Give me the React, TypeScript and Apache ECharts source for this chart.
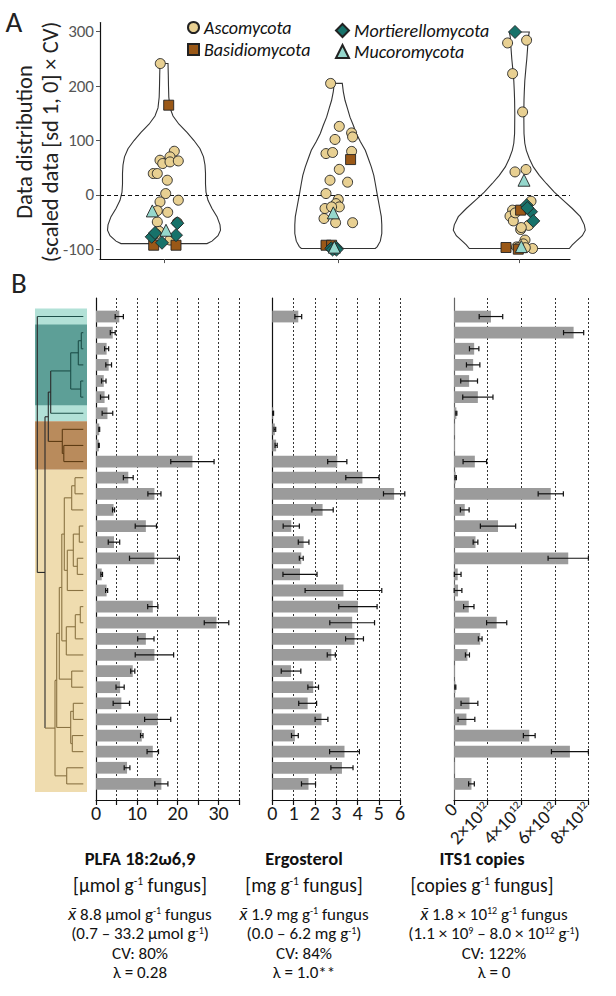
import React, { useEffect, useRef } from 'react';
import * as echarts from 'echarts';

const FONT = 'Carlito, Lato, "Noto Sans", sans-serif';

// ---------------- Panel A data ----------------
const groupNames = ['Ascomycota', 'Basidiomycota', 'Mortierellomycota', 'Mucoromycota'];
const groupFill = ['#e8d092', '#9a5817', '#17726a', '#95d7cc'];
const groupSymbol = ['circle', 'rect', 'diamond', 'triangle'];
const groupSize = [10, 10, 13, 12];

// violin outlines: [scaled value, half width in axis units]
const violinPLFA = [
  [241.5, 4], [220, 4.3], [200, 4.5], [180, 4.8], [160, 6], [145, 9], [130, 15], [115, 23], [100, 30],
  [85, 36], [70, 39.5], [55, 41], [40, 41.5], [20, 41.5], [5, 42], [-10, 44], [-25, 48], [-40, 53],
  [-55, 56], [-65, 56.5], [-75, 54], [-85, 48], [-89.5, 43],
];
const violinErgo = [
  [205, 4], [190, 5], [174, 6.7], [160, 9], [143, 11.7], [128, 15], [113, 18], [98, 22], [82, 27],
  [67, 30], [51.5, 33], [36, 35.5], [21, 37], [5, 38.5], [-10, 40], [-25, 41.5], [-40, 43], [-55, 43.5],
  [-71, 43.5], [-85, 42], [-95, 39], [-98.5, 37],
];
const violinITS = [
  [299.6, 10], [290, 9], [270, 8.3], [250, 7.5], [235, 6.7], [210, 5.5], [190, 5], [174, 4.7], [150, 4.5],
  [113, 4.7], [95, 5.5], [82, 7], [67, 10], [51.5, 14], [36, 20], [21, 27], [5, 35], [-10, 44], [-25, 53],
  [-40, 61], [-55, 65], [-65, 66], [-75, 63], [-85, 57], [-92, 53], [-98.5, 50],
];
const violins = [violinPLFA, violinErgo, violinITS];

// points: [jitter, scaled value]
const ascoPLFA = [[-3.7, 241.5], [10.3, 80.3], [-4, 63.8], [-1.3, 57.7], [6, 70], [6, 60.7], [14.3, 62.5], [-10.7, 39.3], [-6.7, 39.3], [3.3, 27], [1.7, 2.5], [14.3, -9.7], [-4, -12.8], [3.7, -32], [-6.7, -29], [-6.7, -49.6], [13.3, -50.8], [-4.7, -67], [6, -83], [-8, -72]];
const basiPLFA = [[4.7, 165], [-10.3, -92.5], [12, -92.5]];
const mortPLFA = [[-12.3, -77], [12, -74], [-9, -70], [13.3, -52], [-2, -88]];
const mucoPLFA = [[-11.7, -29.4], [2, -65]];

const ascoErgo = [[-7.7, 205], [1, 126], [13.3, 114], [14.3, 106.6], [-3.3, 102], [-12.3, 76], [-5.7, 78], [13.3, 80], [1, 47], [-8.3, 27], [9.3, 23.4], [-12.3, 2.5], [0, -8.5], [-2.3, -16], [1, -22], [-13.3, -25], [-6.7, -22], [-14.3, -43.4], [-2.7, -51], [14.3, -51]];
const basiErgo = [[12.3, 65], [-12.3, -92.5], [-6.7, -92.5]];
const mortErgo = [[-7, -98], [-3, -99], [-2, -97], [-5.7, -100.4], [-1.7, -100.4]];
const mucoErgo = [[-5, -33], [-4, -96]];

const ascoITS = [[-11.7, 279.4], [7.3, 284.4], [-6.7, 223], [3.3, 152.6], [-4.3, 42.3], [6.7, 46.7], [11.7, -11.6], [-6.7, -28], [-9.3, -39], [-6, -47.8], [1.3, -63.6], [9.3, -56], [5.7, -83], [-2.7, -95.6], [13.3, -98.5], [4, -90], [-4, -33], [2, -60], [-1, -97], [6, -97]];
const basiITS = [[1.3, -28], [-13.3, -96.7], [-1, -99.8]];
const mortITS = [[-4.3, 299.6], [7.3, -19], [11.7, -31], [14, -47.8], [8, -24]];
const mucoITS = [[4.7, 27], [2, -95]];

const pointSets = [
  [ascoPLFA, ascoErgo, ascoITS],
  [basiPLFA, basiErgo, basiITS],
  [mortPLFA, mortErgo, mortITS],
  [mucoPLFA, mucoErgo, mucoITS],
];
const violinCenters = [64, 238.3, 419.3];
const panelATicks = [-100, 0, 100, 200, 300];

// ---------------- Panel B data ----------------
// 30 taxa, rows top to bottom
const plfaMean = [5.7, 4.1, 2.6, 3.1, 1.9, 2.1, 2.8, 0.8, 0.7, 23.6, 7.9, 14.3, 4.3, 12.2, 4.4, 14.3, 1.4, 2.6, 13.9, 29.5, 12.2, 14.3, 9.0, 5.9, 6.2, 15.1, 11.2, 13.9, 7.6, 16.0];
const plfaErr = [1.0, 0.6, 0.5, 0.7, 0.55, 1.0, 1.3, 0.1, 0.1, 5.3, 1.2, 1.6, 0.25, 2.6, 1.4, 6.1, 0.2, 0.25, 1.25, 3.0, 2.0, 4.7, 0.5, 1.0, 2.0, 3.2, 0.3, 1.4, 0.7, 1.6];
const ergoMean = [1.22, null, null, null, null, null, 0.04, 0.12, 0.18, 3.05, 4.23, 5.72, 2.36, 0.89, 1.47, 1.36, 1.3, 3.34, 4.02, 3.75, 3.86, 2.77, 0.88, 1.92, 1.66, 2.31, 1.06, 3.39, 3.27, 1.7];
const ergoErr = [0.16, null, null, null, null, null, 0.02, 0.04, 0.05, 0.45, 0.78, 0.5, 0.5, 0.38, 0.25, 0.09, 0.8, 1.8, 0.9, 1.05, 0.42, 0.19, 0.46, 0.25, 0.42, 0.3, 0.16, 0.7, 0.52, 0.33];
const itsMean = [2.2e12, 7.12e12, 1.2e12, 1.14e12, 0.9e12, 1.42e12, 0.14e12, 0.005e12, 0.02e12, 1.24e12, 0.1e12, 5.76e12, 0.64e12, 2.62e12, 1.28e12, 6.8e12, 0.22e12, 0.24e12, 0.88e12, 2.54e12, 1.56e12, 0.8e12, 0.02e12, 0.08e12, 0.92e12, 0.74e12, 4.48e12, 6.9e12, 0.02e12, 1.04e12];
const itsErr = [0.7e12, 0.6e12, 0.28e12, 0.4e12, 0.5e12, 0.9e12, 0.03e12, 0, 0, 0.7e12, 0.04e12, 0.75e12, 0.26e12, 1.05e12, 0.14e12, 1.2e12, 0.2e12, 0.23e12, 0.31e12, 0.6e12, 0.11e12, 0.12e12, 0, 0.03e12, 0.5e12, 0.5e12, 0.35e12, 1.1e12, 0, 0.17e12];

// phylum of each row: 0 Asco, 1 Basidio, 2 Mortierella, 3 Mucoro
const rowGroup = [3, 2, 2, 2, 2, 2, 3, 1, 1, 1, 0, 0, 0, 0, 0, 0, 0, 0, 0, 0, 0, 0, 0, 0, 0, 0, 0, 0, 0, 0];
// clade background bands: [first row, last row, colour index]
const cladeBands = [[1, 7, 0], [2, 6, 1], [8, 10, 2], [11, 30, 3]];
const bandColors = ['#b2e1d7', '#5d9f97', '#b98b5c', '#efdcaf'];
const groupLineColor = ['#8a7343', '#5e3c14', '#1d4f49', '#1d4f49'];

type TNode = number | { d: number; c: TNode[] };
const N = (d: number, c: TNode[]): TNode => ({ d, c });
const TIP_DEPTH = 46;
const ascoClade: TNode = N(17.7, [
  N(19.4, [
    N(22, [
      N(24.5, [
        N(27, [
          N(34.4, [N(37.7, [11, 12]), 13]),
          N(30, [N(36, [N(42, [14, 15]), N(40, [16, 17])]), 18]),
        ]),
        N(29, [N(38, [N(43, [19, 20]), 21]), 22]),
      ]),
      N(34.4, [23, 24]),
    ]),
    N(33.4, [N(36, [25, 26]), N(35, [27, 28])]),
  ]),
  N(29.4, [29, 30]),
]);
const earlyClade: TNode = N(11, [
  N(13.4, [N(33.4, [N(41, [N(44, [2, 3]), 4]), N(43.4, [5, 6])]), 7]),
  N(25, [8, N(26.5, [9, 10])]),
]);
const dendroTree: TNode = N(0, [1, N(7.7, [earlyClade, ascoClade])]);

const plfaTicks = { max: 35, step: 5 };
const ergoTicks = { max: 6, step: 1 };
const itsTicks = { max: 8e12, step: 2e12 };

const titles = ['PLFA 18:2ω6,9', 'Ergosterol', 'ITS1 copies'];
const units = ['[µmol g{s|-1} fungus]', '[mg g{s|-1} fungus]', '[copies g{s|-1} fungus]'];
const statLines = [
  ['{i|x̄} 8.8 µmol g{s|-1} fungus', '(0.7 – 33.2 µmol g{s|-1})', 'CV: 80%', 'λ = 0.28'],
  ['{i|x̄} 1.9 mg g{s|-1} fungus', '(0.0 – 6.2 mg g{s|-1})', 'CV: 84%', 'λ = 1.0**'],
  ['{i|x̄} 1.8 × 10{s|12} g{s|-1} fungus', '(1.1 × 10{s|9} – 8.0 × 10{s|12} g{s|-1})', 'CV: 122%', 'λ = 0'],
];

// ---------------- helpers ----------------
function layoutTree(node: TNode, segs: number[][]): { y: number; x: number; g: number } {
  if (typeof node === 'number') return { y: node, x: TIP_DEPTH, g: rowGroup[node - 1] };
  const kids = node.c.map((k) => layoutTree(k, segs));
  const ys = kids.map((k) => k.y);
  const g0 = kids[0].g;
  const g = kids.every((k) => k.g === g0) ? g0 : -1;
  const yMin = Math.min(...ys), yMax = Math.max(...ys);
  segs.push([node.d, yMin, node.d, yMax, g]);
  kids.forEach((k) => segs.push([node.d, k.y, k.x, k.y, k.g]));
  return { y: (yMin + yMax) / 2, x: node.d, g };
}

function barData(mean: (number | null)[], err: (number | null)[]) {
  const out: number[][] = [];
  mean.forEach((m, i) => {
    if (m !== null) out.push([i + 1, m, err[i] ?? 0]);
  });
  return out;
}

function barRender(params: any, api: any) {
  const r = api.value(0), m = api.value(1), e = api.value(2);
  const base = api.coord([0, r]);
  const end = api.coord([m, r]);
  const h = api.size([0, 0.73])[1];
  const children: any[] = [
    { type: 'rect', shape: { x: base[0], y: base[1] - h / 2, width: Math.max(end[0] - base[0], 0.8), height: h }, style: { fill: '#9b9b9b' } },
  ];
  if (e > 0) {
    const lo = api.coord([Math.max(m - e, 0), r]);
    const hi = api.coord([m + e, r]);
    const cap = 2.6;
    const st = { stroke: '#111', lineWidth: 1.2 };
    children.push({ type: 'line', shape: { x1: lo[0], y1: lo[1], x2: hi[0], y2: hi[1] }, style: st });
    children.push({ type: 'line', shape: { x1: lo[0], y1: lo[1] - cap, x2: lo[0], y2: lo[1] + cap }, style: st });
    children.push({ type: 'line', shape: { x1: hi[0], y1: hi[1] - cap, x2: hi[0], y2: hi[1] + cap }, style: st });
  }
  return { type: 'group', children };
}

const rowAxis = (show: boolean, color = '#111') => ({
  type: 'value', min: -0.15, max: 31, inverse: true,
  axisLine: { show, onZero: false, lineStyle: { color, width: 1.2 } },
  axisTick: { show: false }, axisLabel: { show: false }, splitLine: { show: false },
});

const bottomAxis = (grid: number, t: { max: number; step: number }, label: any) => ({
  type: 'value', gridIndex: grid, min: 0, max: t.max, interval: t.step,
  axisLine: { show: true, onZero: false, lineStyle: { color: '#111', width: 1.2 } },
  axisTick: { show: true, length: 5, lineStyle: { color: '#111', width: 1.2 } },
  splitLine: { show: true, lineStyle: { type: [2, 2], color: '#333', width: 1 } },
  axisLabel: { color: '#1a1a1a', fontSize: 20, fontFamily: FONT, margin: 3, ...label },
});

export default function App() {
  const ref = useRef<HTMLDivElement>(null);
  useEffect(() => {
    const chart = echarts.init(ref.current!, undefined, { renderer: 'svg' });
    const segs: number[][] = [];
    layoutTree(dendroTree, segs);

    const scatterSeries = groupNames.map((name, gi) => ({
      type: 'scatter', name, xAxisIndex: 0, yAxisIndex: 0,
      symbol: groupSymbol[gi], symbolSize: groupSize[gi],
      itemStyle: { color: groupFill[gi], borderColor: '#222', borderWidth: 0.9, opacity: 1 },
      data: pointSets[gi].flatMap((set, vi) => set.map((p) => [violinCenters[vi] + p[0], p[1]])),
      z: 3,
      ...(gi === 0
        ? { markLine: { silent: true, symbol: 'none', label: { show: false }, data: [{ yAxis: 0 }], lineStyle: { type: [4, 3], color: '#111', width: 1 }, z: 2 } }
        : {}),
    }));

    const textEl = (x: number, y: number, text: string, extra: any = {}) => ({
      type: 'text', x, y,
      style: { text, align: 'center', verticalAlign: 'middle', fontFamily: FONT, fill: '#111', ...extra },
    });

    const titleX = [140, 304, 482];
    const statX = [140, 304, 494];
    const graphics: any[] = [
      textEl(14, 22, 'A', { fontSize: 29, fill: '#222' }),
      textEl(19, 283, 'B', { fontSize: 29, fill: '#222' }),
      { ...textEl(24, 142, 'Data distribution', { fontSize: 22.5, fill: '#222' }), rotation: Math.PI / 2 },
      { ...textEl(50, 142, '(scaled data [sd 1, 0] × CV)', { fontSize: 22.5, fill: '#222' }), rotation: Math.PI / 2 },
    ];
    titleX.forEach((cx, ci) => {
      graphics.push(textEl(cx, 858, titles[ci], { fontSize: 18.5, fontWeight: 'bold' }));
      graphics.push(textEl(cx, 885, units[ci], {
        fontSize: 19.5, lineHeight: 20,
        rich: { s: { fontSize: 11.5, verticalAlign: 'top', lineHeight: 20, fontFamily: FONT, fill: '#111' } },
      }));
      const ys = [914, 933.5, 953, 972.5];
      statLines[ci].forEach((ln, li) => {
        graphics.push(textEl(statX[ci], ys[li], ln, {
          fontSize: 17, lineHeight: 17,
          rich: {
            s: { fontSize: 10, verticalAlign: 'top', lineHeight: 17, fontFamily: FONT, fill: '#111' },
            i: { fontSize: 17, lineHeight: 17, fontStyle: 'italic', fontFamily: FONT, fill: '#111' },
          },
        }));
      });
    });

    const legendText = { fontStyle: 'italic', fontSize: 18, lineHeight: 19, color: '#111', fontFamily: FONT };
    const option: any = {
      animation: false,
      textStyle: { fontFamily: FONT },
      legend: [
        {
          data: groupNames.slice(0, 2), orient: 'vertical', left: 187, top: 18, padding: 0, itemWidth: 11, itemHeight: 11, itemGap: 3,
          selectedMode: false, textStyle: legendText,
        },
        {
          data: groupNames.slice(2), orient: 'vertical', left: 335, top: 21, padding: 0, itemWidth: 13, itemHeight: 13, itemGap: 2,
          selectedMode: false, textStyle: legendText,
        },
      ],
      grid: [
        { left: 100, top: 22.5, width: 470, height: 236.6 },
        { left: 35, top: 298, width: 52, height: 502 },
        { left: 96, top: 298, width: 143, height: 502 },
        { left: 272.3, top: 298, width: 127.8, height: 502 },
        { left: 454, top: 298, width: 134.4, height: 502 },
      ],
      xAxis: [
        {
          type: 'value', gridIndex: 0, min: 0, max: 470,
          axisLine: { show: true, onZero: false, lineStyle: { color: '#111', width: 1.2 } },
          axisTick: { show: true, length: 4, customValues: violinCenters, lineStyle: { color: '#555' } },
          axisLabel: { show: false }, splitLine: { show: false },
        },
        { type: 'value', gridIndex: 1, min: -2.3, max: 49.7, show: false },
        bottomAxis(2, plfaTicks, { formatter: (v: number) => (v % 10 === 0 ? String(v) : '') }),
        bottomAxis(3, ergoTicks, {}),
        bottomAxis(4, itsTicks, {
          rotate: 45, margin: 6,
          formatter: (v: number) => (v === 0 ? '{a|0}' : `{a|${v / 1e12}×10}{s|12}`),
          rich: {
            a: { fontSize: 19, fontFamily: FONT, color: '#1a1a1a' },
            s: { fontSize: 11, fontFamily: FONT, color: '#1a1a1a', verticalAlign: 'top' },
          },
        }),
      ],
      yAxis: [
        {
          type: 'value', gridIndex: 0, min: -118, max: 317, splitNumber: 4,
          axisLine: { show: true, onZero: false, lineStyle: { color: '#111', width: 1.2 } },
          axisTick: { show: true, length: 4, customValues: panelATicks, lineStyle: { color: '#555' } },
          axisLabel: { color: '#555', fontSize: 17, fontFamily: FONT, margin: 6, customValues: panelATicks },
          splitLine: { show: false },
        },
        { ...rowAxis(false), gridIndex: 1 },
        { ...rowAxis(true), gridIndex: 2 },
        { ...rowAxis(true), gridIndex: 3 },
        { ...rowAxis(true, '#666'), gridIndex: 4 },
      ],
      graphic: graphics,
      series: [
        {
          type: 'custom', xAxisIndex: 0, yAxisIndex: 0, z: 1,
          data: [[0, 0], [1, 0], [2, 0]],
          renderItem: (params: any, api: any) => {
            const vi = api.value(0);
            const prof = violins[vi];
            const c = violinCenters[vi];
            const right = prof.map((p) => api.coord([c + p[1], p[0]]));
            const left = prof.slice().reverse().map((p) => api.coord([c - p[1], p[0]]));
            return {
              type: 'polygon', shape: { points: right.concat(left), smooth: 0 },
              style: { fill: '#fff', stroke: '#333', lineWidth: 1.1 },
            };
          },
        },
        ...scatterSeries,
        {
          type: 'custom', xAxisIndex: 1, yAxisIndex: 1, z: 1,
          data: cladeBands,
          renderItem: (params: any, api: any) => {
            const top = api.coord([0, api.value(0) - 0.5])[1];
            const bot = api.coord([0, api.value(1) + 0.5])[1];
            const cs = params.coordSys;
            return { type: 'rect', shape: { x: cs.x, y: top, width: cs.width, height: bot - top }, style: { fill: bandColors[api.value(2)] } };
          },
        },
        {
          type: 'custom', xAxisIndex: 1, yAxisIndex: 1, z: 2,
          data: segs,
          renderItem: (params: any, api: any) => {
            const a = api.coord([api.value(0), api.value(1)]);
            const b = api.coord([api.value(2), api.value(3)]);
            const g = api.value(4);
            return {
              type: 'line', shape: { x1: a[0], y1: a[1], x2: b[0], y2: b[1] },
              style: { stroke: g >= 0 ? groupLineColor[g] : '#2b2b2b', lineWidth: 1.1 },
            };
          },
        },
        { type: 'custom', xAxisIndex: 2, yAxisIndex: 2, z: 3, data: barData(plfaMean, plfaErr), renderItem: barRender },
        { type: 'custom', xAxisIndex: 3, yAxisIndex: 3, z: 3, data: barData(ergoMean, ergoErr), renderItem: barRender },
        { type: 'custom', xAxisIndex: 4, yAxisIndex: 4, z: 3, data: barData(itsMean, itsErr), renderItem: barRender },
      ],
    };
    chart.setOption(option);
    return () => chart.dispose();
  }, []);
  return <div ref={ref} style={{ width: 616, height: 996, position: 'absolute', left: 0, top: 0 }} />;
}
